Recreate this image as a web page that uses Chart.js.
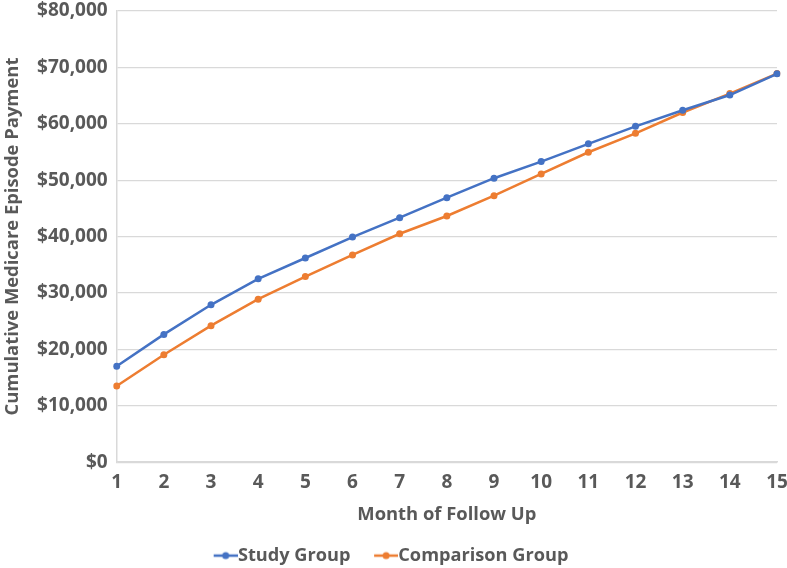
<!DOCTYPE html>
<html>
<head>
<meta charset="utf-8">
<script src="https://cdn.jsdelivr.net/npm/chart.js@4/dist/chart.umd.min.js"></script>
<style>
html,body{margin:0;padding:0;background:#fff;}
#wrap{width:787px;height:568px;position:relative;}
</style>
</head>
<body>
<div id="wrap"><canvas id="c" width="787" height="568"></canvas></div>
<script>
const months = ['1','2','3','4','5','6','7','8','9','10','11','12','13','14','15'];
const studyGroup = [17000, 22650, 27900, 32500, 36200, 39900, 43350, 46900, 50350, 53300, 56450, 59550, 62400, 65100, 68850];
const comparisonGroup = [13500, 19050, 24200, 28900, 32900, 36750, 40500, 43650, 47250, 51100, 54950, 58300, 62000, 65350, 68900];
const yTicks = [0, 10000, 20000, 30000, 40000, 50000, 60000, 70000, 80000];

const BLUE = '#4472C4', ORANGE = '#ED7D31', TXT = '#595959';
const FS = 19;
const LFS = 18.2;
const LEGEND_H = 42;

// legend icon: line + dot, drawn on the right part of a wider transparent image
function legendIcon(color){
  const cv = document.createElement('canvas');
  cv.width = 36; cv.height = 10;
  const g = cv.getContext('2d');
  g.strokeStyle = color; g.lineWidth = 2.5;
  g.beginPath(); g.moveTo(12,5); g.lineTo(36,5); g.stroke();
  g.fillStyle = color;
  g.beginPath(); g.arc(24,5,3.5,0,Math.PI*2); g.fill();
  return cv;
}

const legendHeightPlugin = {
  id: 'legendHeight',
  beforeLayout(chart){
    const lg = chart.legend;
    if (lg && !lg._patched){
      const orig = lg.fit.bind(lg);
      lg.fit = function(){ orig(); this.height = LEGEND_H; };
      lg._patched = true;
    }
  }
};

Chart.defaults.font.family = "'Open Sans', sans-serif";
Chart.defaults.color = TXT;

new Chart(document.getElementById('c'), {
  type: 'line',
  data: {
    labels: months,
    datasets: [
      {label:'Study Group', data: studyGroup, borderColor: BLUE, backgroundColor: BLUE,
       borderWidth: 2.5, pointRadius: 3.5, pointHoverRadius: 3.5, pointBorderWidth: 0, tension: 0,
       pointStyle: 'circle'},
      {label:'Comparison Group', data: comparisonGroup, borderColor: ORANGE, backgroundColor: ORANGE,
       borderWidth: 2.5, pointRadius: 3.5, pointHoverRadius: 3.5, pointBorderWidth: 0, tension: 0,
       pointStyle: 'circle'}
    ]
  },
  plugins: [legendHeightPlugin],
  options: {
    responsive: false,
    animation: false,
    devicePixelRatio: 1,
    layout: {padding: {left: 2, right: 10, top: 11, bottom: 0}},
    plugins: {
      tooltip: {enabled: false},
      legend: {
        position: 'bottom',
        labels: {
          usePointStyle: true,
          font: {size: LFS, weight: 'bold'},
          color: TXT,
          padding: 20.5,
          generateLabels(chart){
            return chart.data.datasets.map((ds,i)=>({
              text: ds.label,
              fillStyle: ds.borderColor,
              strokeStyle: ds.borderColor,
              pointStyle: legendIcon(ds.borderColor),
              fontColor: TXT,
              datasetIndex: i,
              hidden: false,
              lineWidth: 0
            }));
          }
        }
      }
    },
    scales: {
      x: {
        type: 'category',
        offset: false,
        grid: {display: false, drawTicks: false},
        border: {display: true, color: '#d9d9d9', width: 1.5},
        ticks: {font: {size: FS, weight: 'bold'}, color: TXT, padding: 9, maxRotation: 0, autoSkip: false},
        title: {display: true, text: 'Month of Follow Up', font: {size: 18.4, weight: 'bold'}, color: TXT, padding: {top: 1, bottom: 0}},
        afterFit(axis){ axis.paddingLeft = 0; axis.paddingRight = 0; }
      },
      y: {
        min: 0, max: 80000,
        afterBuildTicks(axis){ axis.ticks = yTicks.map(v=>({value:v})); },
        grid: {color: '#d9d9d9', lineWidth: 1.2, drawTicks: false},
        border: {display: true, color: '#d9d9d9', width: 1.5},
        ticks: {font: {size: FS, weight: 'bold'}, color: TXT, padding: 9,
          callback: v => '$' + Number(v).toLocaleString('en-US')},
        title: {display: true, text: 'Cumulative Medicare Episode Payment', font: {size: 18.4, weight: 'bold'}, color: TXT, padding: {top: 0, bottom: 4}},
        afterFit(axis){ axis.paddingTop = 0; axis.paddingBottom = 0; }
      }
    }
  }
});
</script>
</body>
</html>
